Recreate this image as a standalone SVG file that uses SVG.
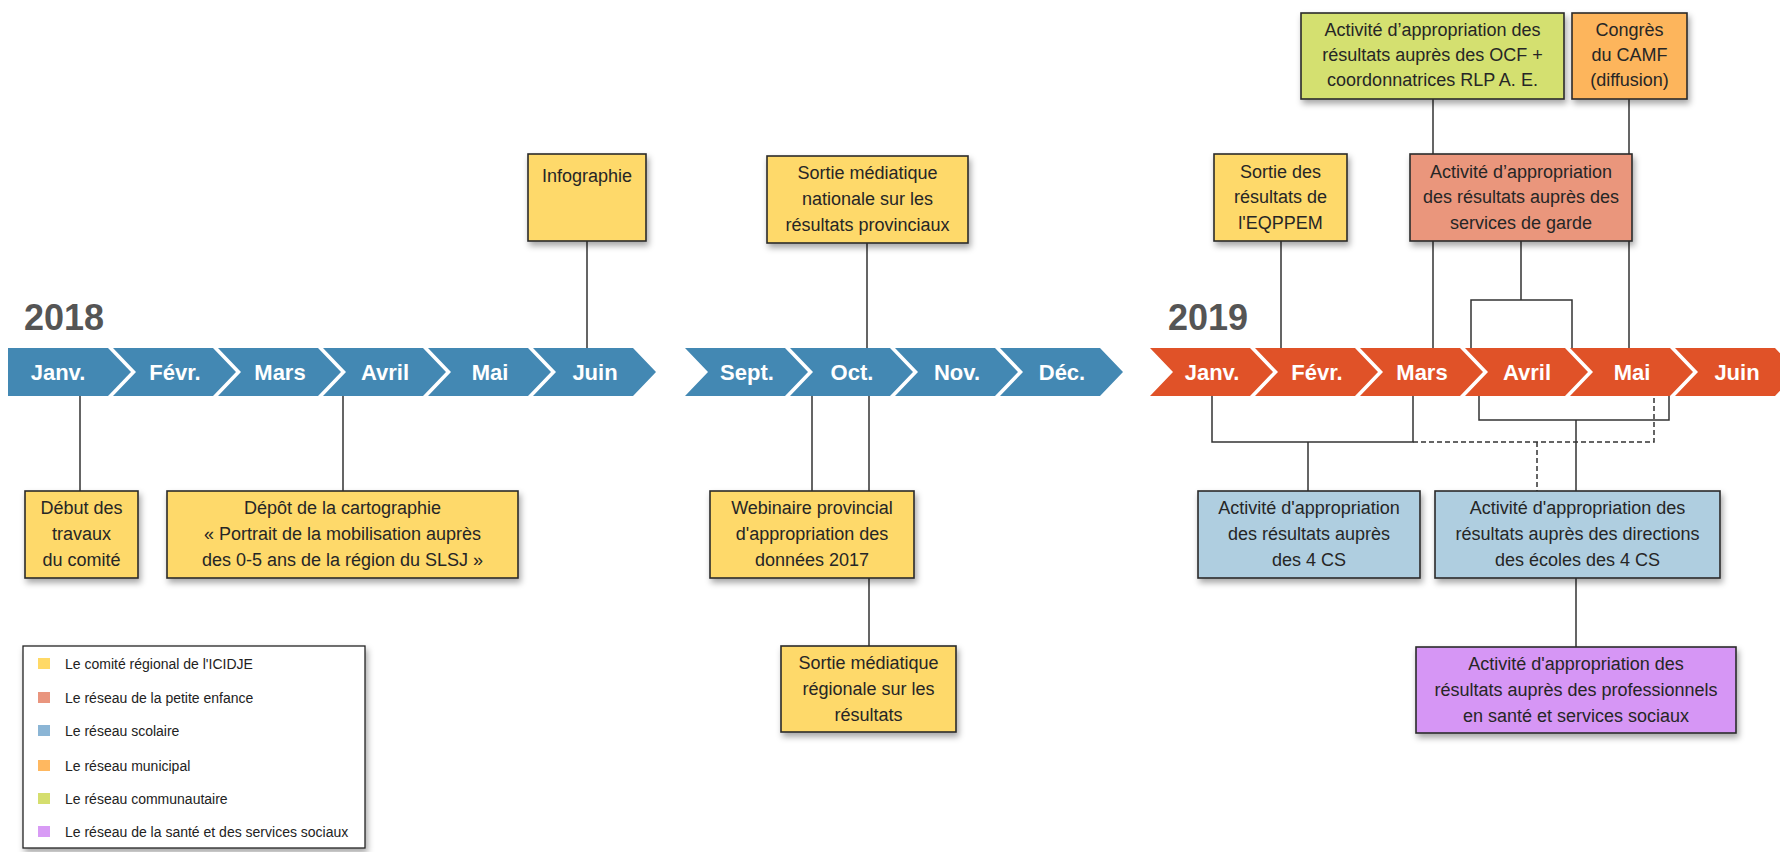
<svg xmlns="http://www.w3.org/2000/svg" width="1780" height="852" viewBox="0 0 1780 852">
<defs>
<filter id="sh" x="-10%" y="-10%" width="125%" height="135%">
<feDropShadow dx="2" dy="4" stdDeviation="3" flood-color="#000" flood-opacity="0.35"/>
</filter>
<style>
.bx{stroke:#2a2a2a;stroke-width:1.6;filter:url(#sh)}
.y{fill:#FED96B}.s{fill:#EA967C}.b{fill:#AFCEE0}.o{fill:#FDB55C}.g{fill:#D4E06F}.p{fill:#D696F5}
.t{font-family:"Liberation Sans",Arial,sans-serif;font-size:18px;fill:#262626;text-anchor:middle}
.m{font-family:"Liberation Sans",Arial,sans-serif;font-size:22px;font-weight:bold;fill:#fff;text-anchor:middle}
.yr{font-family:"Liberation Sans",Arial,sans-serif;font-size:36px;font-weight:bold;fill:#555}
.lg{font-family:"Liberation Sans",Arial,sans-serif;font-size:14px;fill:#222}
.c{stroke:#333;stroke-width:1.5;fill:none}
.d{stroke:#333;stroke-width:1.5;fill:none;stroke-dasharray:5 3}
.bl{fill:#4388B3}.or{fill:#E05228}
</style>
</defs>
<rect width="1780" height="852" fill="#fff"/>

<g id="connectors">
<path class="c" d="M80,396V491M343,396V491M587,241V348M867,243V348M812,396V491M869,396V646"/>
<path class="c" d="M1281,241V348M1433,99V348M1629,99V348M1521,241V300M1471,348V300H1572V348"/>
<path class="c" d="M1212,396V442H1413V396M1308,442V491M1479,396V420H1669V396M1576,420V647"/>
<path class="d" d="M1413,442H1654V396M1537,442V491"/>
</g>

<g id="years">
<text class="yr" x="24" y="330">2018</text>
<text class="yr" x="1168" y="330">2019</text>
</g>

<g id="timeline-2018">
<path class="bl" d="M8,348H108L131,372L108,396H8Z"/>
<path class="bl" d="M113,348H213L236,372L213,396H113L136,372Z"/>
<path class="bl" d="M218,348H318L341,372L318,396H218L241,372Z"/>
<path class="bl" d="M323,348H423L446,372L423,396H323L346,372Z"/>
<path class="bl" d="M428,348H528L551,372L528,396H428L451,372Z"/>
<path class="bl" d="M533,348H633L656,372L633,396H533L556,372Z"/>
<path class="bl" d="M685,348H785L808,372L785,396H685L708,372Z"/>
<path class="bl" d="M790,348H890L913,372L890,396H790L813,372Z"/>
<path class="bl" d="M895,348H995L1018,372L995,396H895L918,372Z"/>
<path class="bl" d="M1000,348H1100L1123,372L1100,396H1000L1023,372Z"/>
<text class="m" x="58" y="380">Janv.</text>
<text class="m" x="175" y="380">Févr.</text>
<text class="m" x="280" y="380">Mars</text>
<text class="m" x="385" y="380">Avril</text>
<text class="m" x="490" y="380">Mai</text>
<text class="m" x="595" y="380">Juin</text>
<text class="m" x="747" y="380">Sept.</text>
<text class="m" x="852" y="380">Oct.</text>
<text class="m" x="957" y="380">Nov.</text>
<text class="m" x="1062" y="380">Déc.</text>
</g>

<g id="timeline-2019">
<path class="or" d="M1150,348H1250L1273,372L1250,396H1150L1173,372Z"/>
<path class="or" d="M1255,348H1355L1378,372L1355,396H1255L1278,372Z"/>
<path class="or" d="M1360,348H1460L1483,372L1460,396H1360L1383,372Z"/>
<path class="or" d="M1465,348H1565L1588,372L1565,396H1465L1488,372Z"/>
<path class="or" d="M1570,348H1670L1693,372L1670,396H1570L1593,372Z"/>
<path class="or" d="M1675,348H1775L1798,372L1775,396H1675L1698,372Z"/>
<text class="m" x="1212" y="380">Janv.</text>
<text class="m" x="1317" y="380">Févr.</text>
<text class="m" x="1422" y="380">Mars</text>
<text class="m" x="1527" y="380">Avril</text>
<text class="m" x="1632" y="380">Mai</text>
<text class="m" x="1737" y="380">Juin</text>
</g>

<g id="debut">
<rect class="bx y" x="25" y="491" width="113" height="87"/>
<text class="t" x="81.5"><tspan x="81.5" y="514">Début des</tspan><tspan x="81.5" y="540">travaux</tspan><tspan x="81.5" y="566">du comité</tspan></text>
</g>
<g id="depot">
<rect class="bx y" x="167" y="491" width="351" height="87"/>
<text class="t"><tspan x="342.5" y="514">Dépôt de la cartographie</tspan><tspan x="342.5" y="540">« Portrait de la mobilisation auprès</tspan><tspan x="342.5" y="566">des 0-5 ans de la région du SLSJ »</tspan></text>
</g>
<g id="infographie">
<rect class="bx y" x="528" y="154" width="118" height="87"/>
<text class="t" x="587" y="182">Infographie</text>
</g>
<g id="sortie-nationale">
<rect class="bx y" x="767" y="156" width="201" height="87"/>
<text class="t"><tspan x="867.5" y="179">Sortie médiatique</tspan><tspan x="867.5" y="205">nationale sur les</tspan><tspan x="867.5" y="231">résultats provinciaux</tspan></text>
</g>
<g id="webinaire">
<rect class="bx y" x="710" y="491" width="204" height="87"/>
<text class="t"><tspan x="812" y="514">Webinaire provincial</tspan><tspan x="812" y="540">d'appropriation des</tspan><tspan x="812" y="566">données 2017</tspan></text>
</g>
<g id="sortie-regionale">
<rect class="bx y" x="781" y="646" width="175" height="86"/>
<text class="t"><tspan x="868.5" y="669">Sortie médiatique</tspan><tspan x="868.5" y="695">régionale sur les</tspan><tspan x="868.5" y="721">résultats</tspan></text>
</g>
<g id="ocf">
<rect class="bx g" x="1301" y="13" width="263" height="86"/>
<text class="t"><tspan x="1432.5" y="36">Activité d’appropriation des</tspan><tspan x="1432.5" y="61">résultats auprès des OCF +</tspan><tspan x="1432.5" y="86">coordonnatrices RLP A. E.</tspan></text>
</g>
<g id="camf">
<rect class="bx o" x="1572" y="13" width="115" height="86"/>
<text class="t"><tspan x="1629.5" y="36">Congrès</tspan><tspan x="1629.5" y="61">du CAMF</tspan><tspan x="1629.5" y="86">(diffusion)</tspan></text>
</g>
<g id="eqppem">
<rect class="bx y" x="1214" y="154" width="133" height="87"/>
<text class="t"><tspan x="1280.5" y="178">Sortie des</tspan><tspan x="1280.5" y="203">résultats de</tspan><tspan x="1280.5" y="229">l'EQPPEM</tspan></text>
</g>
<g id="services-garde">
<rect class="bx s" x="1410" y="154" width="222" height="87"/>
<text class="t"><tspan x="1521" y="178">Activité d’appropriation</tspan><tspan x="1521" y="203">des résultats auprès des</tspan><tspan x="1521" y="229">services de garde</tspan></text>
</g>
<g id="cs">
<rect class="bx b" x="1198" y="491" width="222" height="87"/>
<text class="t"><tspan x="1309" y="514">Activité d'appropriation</tspan><tspan x="1309" y="540">des résultats auprès</tspan><tspan x="1309" y="566">des 4 CS</tspan></text>
</g>
<g id="directions">
<rect class="bx b" x="1435" y="491" width="285" height="87"/>
<text class="t"><tspan x="1577.5" y="514">Activité d'appropriation des</tspan><tspan x="1577.5" y="540">résultats auprès des directions</tspan><tspan x="1577.5" y="566">des écoles des 4 CS</tspan></text>
</g>
<g id="sante">
<rect class="bx p" x="1416" y="647" width="320" height="86"/>
<text class="t"><tspan x="1576" y="670">Activité d'appropriation des</tspan><tspan x="1576" y="696">résultats auprès des professionnels</tspan><tspan x="1576" y="722">en santé et services sociaux</tspan></text>
</g>

<g id="legend">
<rect x="23" y="646" width="342" height="202" fill="#fff" stroke="#222" stroke-width="1.3" filter="url(#sh)"/>
<rect x="38" y="658" width="12" height="11" fill="#FFD966"/>
<rect x="38" y="692" width="12" height="11" fill="#E9957E"/>
<rect x="38" y="725" width="12" height="11" fill="#8BB5D5"/>
<rect x="38" y="760" width="12" height="11" fill="#FFB860"/>
<rect x="38" y="793" width="12" height="11" fill="#D5DE6E"/>
<rect x="38" y="826" width="12" height="11" fill="#D89BF5"/>
<text class="lg" x="65" y="669">Le comité régional de l'ICIDJE</text>
<text class="lg" x="65" y="703">Le réseau de la petite enfance</text>
<text class="lg" x="65" y="736">Le réseau scolaire</text>
<text class="lg" x="65" y="771">Le réseau municipal</text>
<text class="lg" x="65" y="804">Le réseau communautaire</text>
<text class="lg" x="65" y="837">Le réseau de la santé et des services sociaux</text>
</g>
</svg>
